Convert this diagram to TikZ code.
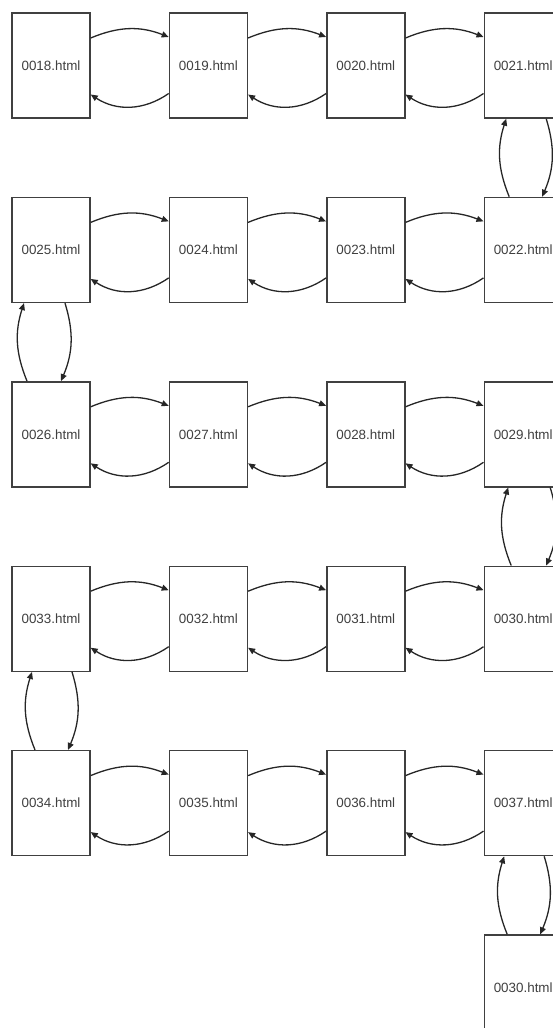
\documentclass[tikz,border=0pt]{standalone}
\usepackage{fontspec}
\setmainfont{Liberation Sans}
\usetikzlibrary{
    arrows.meta,
    positioning
}

\begin{document}
\begin{tikzpicture}[
        node distance=78pt and 78pt,
        every node/.style={font=\fontsize{13.4}{15}\selectfont},
        page/.style={
            rectangle,
            draw=black!75,
            line width=1.4pt,
            fill=white,
            text=black!75,
            minimum width=78pt,
            minimum height=105pt,
            inner sep=0pt
        },
        link/.style={
            -{Triangle[length=7pt,width=6pt]},
            line width=1.3pt,
            draw=black!85
        }
    ]
        \useasboundingbox (0,0) rectangle (552pt,-1028pt);

        % Row 1, left to right
        \node[page] (n18) at (51pt,-65.5pt) {0018.html};
        \node[page, right=of n18] (n19) {0019.html};
        \node[page, right=of n19] (n20) {0020.html};
        \node[page, right=of n20] (n21) {0021.html};

        % Row 2, right to left
        \node[page, below=of n21] (n22) {0022.html};
        \node[page, left=of n22] (n23) {0023.html};
        \node[page, left=of n23] (n24) {0024.html};
        \node[page, left=of n24] (n25) {0025.html};

        % Row 3
        \node[page, below=of n25] (n26) {0026.html};
        \node[page, right=of n26] (n27) {0027.html};
        \node[page, right=of n27] (n28) {0028.html};
        \node[page, right=of n28] (n29) {0029.html};

        % Row 4
        \node[page, below=of n29] (n30) {0030.html};
        \node[page, left=of n30] (n31) {0031.html};
        \node[page, left=of n31] (n32) {0032.html};
        \node[page, left=of n32] (n33) {0033.html};

        % Row 5
        \node[page, below=of n33] (n34) {0034.html};
        \node[page, right=of n34] (n35) {0035.html};
        \node[page, right=of n35] (n36) {0036.html};
        \node[page, right=of n36] (n37) {0037.html};

        % Row 6
        \node[page, below=of n37] (n30b) {0030.html};

        % Links between neighbours in a row (left/right)
        \foreach \l/\r in {n18/n19, n19/n20, n20/n21,
                           n25/n24, n24/n23, n23/n22,
                           n26/n27, n27/n28, n28/n29,
                           n33/n32, n32/n31, n31/n30,
                           n34/n35, n35/n36, n36/n37} {
            \draw[link] ([yshift=27.5pt]\l.east) to[bend left=22]
                ([yshift=28.5pt]\r.west);
            \draw[link] ([yshift=-28pt]\r.west) to[bend left=34]
                ([yshift=-29pt]\l.east);
        }

        % Links between rows (upper/lower, offsets of both arrows)
        \foreach \hi/\lo/\u/\d in {n21/n22/-14/23, n25/n26/-24/14,
                                   n29/n30/-12/27, n33/n34/-16/21,
                                   n37/n30b/-16/21} {
            \draw[link] ([xshift=\u pt]\lo.north) to[bend left=20]
                ([xshift=\u pt-3pt]\hi.south);
            \draw[link] ([xshift=\d pt]\hi.south) to[bend left=20]
                ([xshift=\d pt-4pt]\lo.north);
        }
    \end{tikzpicture}
\end{document}
